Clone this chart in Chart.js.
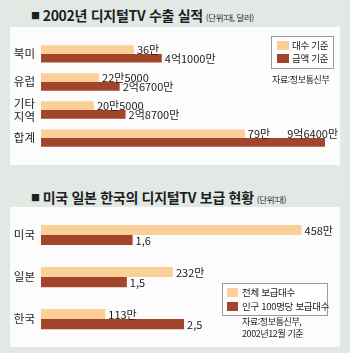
<!DOCTYPE html>
<html lang="ko">
<head>
<meta charset="utf-8">
<script src="https://cdn.jsdelivr.net/npm/chart.js@4.4.1/dist/chart.umd.min.js"></script>
<style>
  html, body { margin: 0; padding: 0; }
  body {
    width: 350px; height: 353px; position: relative; overflow: hidden;
    background: #e2e9e5;
    font-family: "Noto Sans CJK KR", sans-serif; color: #222;
  }
  .panel { position: absolute; background: #fbfcfb; }
  .title {
    position: absolute; left: 31px; font-size: 14px; font-weight: 700;
    letter-spacing: -0.3px; white-space: nowrap; line-height: 16px; color: #1e1e1e;
  }
  .title .bullet { font-size: 9px; position: relative; top: -2px; margin-right: 3px; }
  .title small { font-size: 8.5px; font-weight: 400; letter-spacing: -0.4px; margin-left: 3px; }
  canvas { position: absolute; }
  .legend {
    position: absolute; background: #fff; border: 1px solid #9a9a9a;
    font-size: 9.5px; letter-spacing: -0.3px; box-sizing: border-box;
  }
  .legend div { position: absolute; white-space: nowrap; line-height: 11px; }
  .legend i { position: absolute; display: block; }
  .src { position: absolute; font-size: 9px; letter-spacing: -0.4px; line-height: 12px; white-space: nowrap; }
</style>
</head>
<body>

<div class="title" style="top:7px"><span class="bullet">■</span>2002년 디지털TV 수출 실적<small>(단위:대, 달러)</small></div>
<div class="panel" style="left:10px; top:27px; width:330px; height:138px"></div>
<canvas id="exportChart" width="330" height="138" style="left:10px; top:27px"></canvas>
<div class="legend" style="left:271px; top:36px; width:63px; height:33px">
  <i style="left:5px; top:4px; width:12px; height:9px; background:#fdcf98"></i>
  <div style="left:20px; top:3px">대수 기준</div>
  <i style="left:5px; top:17px; width:12px; height:9px; background:#a3452a"></i>
  <div style="left:20px; top:16px">금액 기준</div>
</div>
<div class="src" style="left:272px; top:74px">자료:정보통신부</div>

<div class="title" style="top:189px"><span class="bullet">■</span>미국 일본 한국의 디지털TV 보급 현황<small>(단위:대)</small></div>
<div class="panel" style="left:10px; top:207px; width:330px; height:140px"></div>
<canvas id="supplyChart" width="330" height="153" style="left:10px; top:200px"></canvas>
<div class="legend" style="left:222px; top:283px; width:106px; height:33px">
  <i style="left:4px; top:4px; width:11px; height:9px; background:#fdcf98"></i>
  <div style="left:19px; top:3px">전체 보급대수</div>
  <i style="left:4px; top:18px; width:11px; height:9px; background:#a3452a"></i>
  <div style="left:19px; top:17px">인구 100명당 보급대수</div>
</div>
<div class="src" style="left:242px; top:316px">자료:정보통신부,<br>2002년12월 기준</div>

<script>
// 2002년 디지털TV 수출 실적
const exportRegions = ['북미', '유럽', ['기타', '지역'], '합계'];
const exportUnits = [360000, 225000, 205000, 790000];              // 대수 (대)
const exportAmounts = [410000000, 267000000, 287000000, 964000000]; // 금액 (달러)

// 미국 일본 한국의 디지털TV 보급 현황
const supplyCountries = ['미국', '일본', '한국'];
const supplyTotal = [4580000, 2320000, 1130000]; // 전체 보급대수
const supplyPer100 = [1.6, 1.5, 2.5];            // 인구 100명당 보급대수

const LIGHT = '#fdcf98';
const DARK = '#a3452a';
const FONT = '"Noto Sans CJK KR", sans-serif';

// 숫자를 억/만 단위 한글 표기로
function koUnit(v) {
    const eok = Math.floor(v / 1e8);
    const man = Math.floor((v % 1e8) / 1e4);
    const rest = v % 1e4;
    let s = '';
    if (eok) s += eok + '억';
    if (man) s += man + '만';
    if (rest) s += rest;
    return s;
}

function decimalComma(v) {
    return String(v).replace('.', ',');
}

// 막대 끝에 값 표시, 캔버스를 넘으면 윗줄 오른쪽 끝에 붙임
const valueLabels = {
    id: 'valueLabels',
    afterDatasetsDraw(chart, args, opts) {
        const ctx = chart.ctx;
        ctx.save();
        ctx.font = '11px ' + FONT;
        ctx.fillStyle = '#1a1a1a';
        ctx.textBaseline = 'middle';
        chart.data.datasets.forEach((ds, di) => {
            const fmt = opts.formats[di];
            chart.getDatasetMeta(di).data.forEach((bar, i) => {
                const text = fmt(ds.data[i]);
                const w = ctx.measureText(text).width;
                let x = bar.x + 3;
                let y = bar.y + 0.5;
                ctx.textAlign = 'left';
                if (x + w > chart.width - 2) {
                    ctx.textAlign = 'right';
                    x = chart.width - 2;
                    y = bar.y - bar.height;
                }
                ctx.fillText(text, x, y);
            });
        });
        ctx.restore();
    }
};

function makeOptions(xMax, x2Max, catPct, padTop, formats) {
    return {
        indexAxis: 'y',
        responsive: false,
        animation: false,
        layout: { padding: { top: padTop, right: 10, bottom: 0, left: 0 } },
        datasets: { bar: { categoryPercentage: catPct, barPercentage: 1 } },
        scales: {
            y: {
                grid: { display: false, drawTicks: false },
                border: { display: false },
                ticks: { padding: 6, color: '#222', font: { family: FONT, size: 11.5 } },
                afterFit(axis) { axis.width = 31; }
            },
            x: { display: false, min: 0, max: xMax },
            x2: { display: false, min: 0, max: x2Max, axis: 'x' }
        },
        plugins: {
            legend: { display: false },
            tooltip: { enabled: false },
            valueLabels: { formats: formats }
        }
    };
}

new Chart(document.getElementById('exportChart'), {
    type: 'bar',
    data: {
        labels: exportRegions,
        datasets: [
            { label: '대수 기준', data: exportUnits, backgroundColor: LIGHT, xAxisID: 'x' },
            { label: '금액 기준', data: exportAmounts, backgroundColor: DARK, xAxisID: 'x2' }
        ]
    },
    options: makeOptions(1120000, 981000000, 0.62, 2, [koUnit, koUnit]),
    plugins: [valueLabels]
});

new Chart(document.getElementById('supplyChart'), {
    type: 'bar',
    data: {
        labels: supplyCountries,
        datasets: [
            { label: '전체 보급대수', data: supplyTotal, backgroundColor: LIGHT, xAxisID: 'x' },
            { label: '인구 100명당 보급대수', data: supplyPer100, backgroundColor: DARK, xAxisID: 'x2' }
        ]
    },
    options: makeOptions(5080000, 5.05, 0.48, 14, [koUnit, decimalComma]),
    plugins: [valueLabels]
});
</script>
</body>
</html>
